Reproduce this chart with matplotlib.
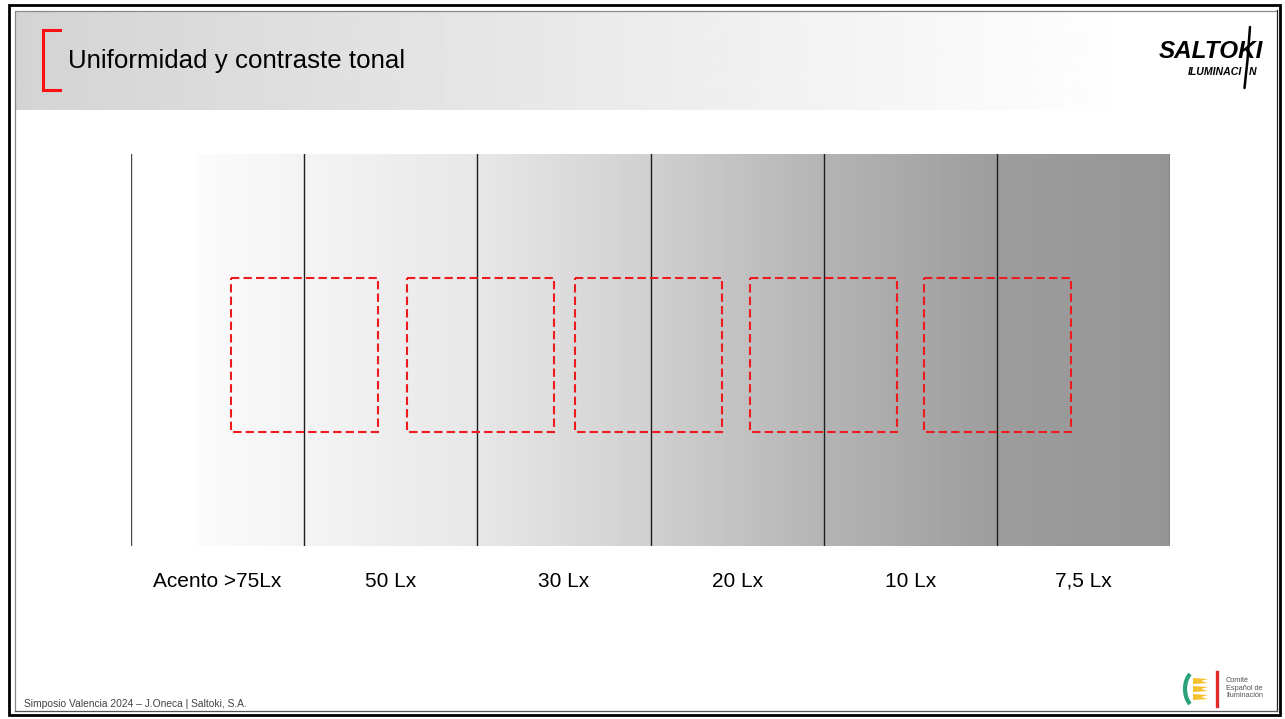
import numpy as np
import matplotlib
matplotlib.use("Agg")
import matplotlib.pyplot as plt
from matplotlib.patches import Rectangle, Arc, Polygon
import matplotlib.transforms as mtransforms

plt.rcParams['font.family'] = ['Liberation Sans', 'DejaVu Sans']

# ---- data ----
title = "Uniformidad y contraste tonal"
labels = ["Acento >75Lx", "50 Lx", "30 Lx", "20 Lx", "10 Lx", "7,5 Lx"]
# grey level (0=black, 1=white) of the gradient at positions along the strip (segment units)
grad_pos = [0.0, 0.37, 0.375, 1.0, 2.0, 3.0, 4.0, 5.0, 6.0]
grad_val = [1.0, 1.0, 0.982, 0.955, 0.905, 0.815, 0.705, 0.615, 0.585]
# left edges of the dashed comparison boxes (segment units)
box_lefts = [0.577, 1.594, 2.564, 3.575, 4.580]
box_width = 0.849
footer = "Simposio Valencia 2024 \u2013 J.Oneca | Saltoki, S.A."

W, H = 1285, 719
fig = plt.figure(figsize=(W / 100, H / 100), dpi=100)
fig.patch.set_facecolor("white")

# ---- background / slide decoration axes in pixel coordinates ----
bg = fig.add_axes([0, 0, 1, 1], zorder=0)
bg.set_xlim(0, W)
bg.set_ylim(H, 0)
bg.axis("off")

# header gradient band
hx = np.linspace(0, 1, 400)
hband = 0.83 + (1.0 - 0.83) * hx
bg.imshow(np.tile(hband, (2, 1)), cmap="gray", vmin=0, vmax=1,
          extent=[16, 1140, 110, 11], aspect="auto", interpolation="bilinear", zorder=1)

# frame
bg.add_patch(Rectangle((8.5, 5), 1271.5, 709.5, fill=False, ec="black", lw=2.0, zorder=5))
bg.plot([15, 15, 1276], [711, 11, 11], color="#8a8a8a", lw=0.9, zorder=5)
bg.plot([1277, 1277], [10, 711], color="#222222", lw=0.9, zorder=5)
bg.plot([15, 1277], [710.5, 710.5], color="#555555", lw=0.9, zorder=5)

# red bracket
bg.plot([60, 43, 43, 60], [30, 30, 90, 90], color="#ff1010", lw=2.2,
        solid_joinstyle="miter", zorder=6)
bg.text(68, 61, title, fontsize=18.6, color="black", va="center", ha="left", zorder=6)

# SALTOKI logo
bg.text(1211, 51, "SALTOKI", fontsize=17.5, fontweight="bold", fontstyle="italic",
        ha="center", va="center", color="black", zorder=6)
bg.text(1242, 72, "ILUMINACI", fontsize=7.6, fontweight="bold", fontstyle="italic",
        ha="right", va="center", color="black", zorder=6)
bg.text(1249, 72, "N", fontsize=7.6, fontweight="bold", fontstyle="italic",
        ha="left", va="center", color="black", zorder=6)
bg.plot([1250, 1247.5, 1244.5], [27, 60, 88], color="black", lw=1.8,
        solid_capstyle="round", zorder=6)

# footer
bg.text(24, 704, footer, fontsize=7.4, color="#444444", ha="left", va="center", zorder=6)

# CEI logo
bg.add_patch(Arc((1198, 689), 26, 38, theta1=118, theta2=242, color="#2aa17a", lw=3.0, zorder=6))
for yy in (681, 689, 697):
    bg.add_patch(Polygon([[1193, yy - 3], [1208, yy - 2], [1201, yy], [1208, yy + 2],
                          [1193, yy + 3]], closed=True, fc="#f2c12e", ec="none", zorder=6))
bg.plot([1217, 1217], [672, 706], color="#e32a2a", lw=2.4, zorder=6)
bg.text(1226, 688, "Comit\u00e9\nEspa\u00f1ol de\nIluminaci\u00f3n", fontsize=5.3,
        color="#555555", ha="left", va="center", linespacing=1.05, zorder=6)

# ---- strip axes ----
x0, x1, y0, y1 = 131, 1170, 154, 546
ax = fig.add_axes([x0 / W, 1 - y1 / H, (x1 - x0) / W, (y1 - y0) / H], zorder=2)
n = len(labels)
ax.set_xlim(0, n)
ax.set_ylim(1, 0)
ax.axis("off")

xs = np.linspace(0, n, 1200)
grey = np.interp(xs, grad_pos, grad_val)
ax.imshow(np.tile(grey, (2, 1)), cmap="gray", vmin=0, vmax=1,
          extent=[0, n, 1, 0], aspect="auto", interpolation="nearest", zorder=1)

for i in range(n + 1):
    ax.axvline(i, color="#4a4a4a" if i in (0, n) else "#1e1e1e", lw=1.0, zorder=3)

btop, bbot = 0.316, 0.709
for bl in box_lefts:
    ax.add_patch(Rectangle((bl, btop), box_width, bbot - btop, fill=False,
                           ec="#ee1a1e", lw=1.5, ls=(0, (4.0, 2.0)), zorder=4))

trans = mtransforms.blended_transform_factory(ax.transData, ax.transAxes)
for i, lab in enumerate(labels):
    ax.text(i + 0.5, -0.09, lab, transform=trans, fontsize=15, ha="center",
            va="center", color="black")

fig.savefig("out.png", dpi=100, facecolor="white")
